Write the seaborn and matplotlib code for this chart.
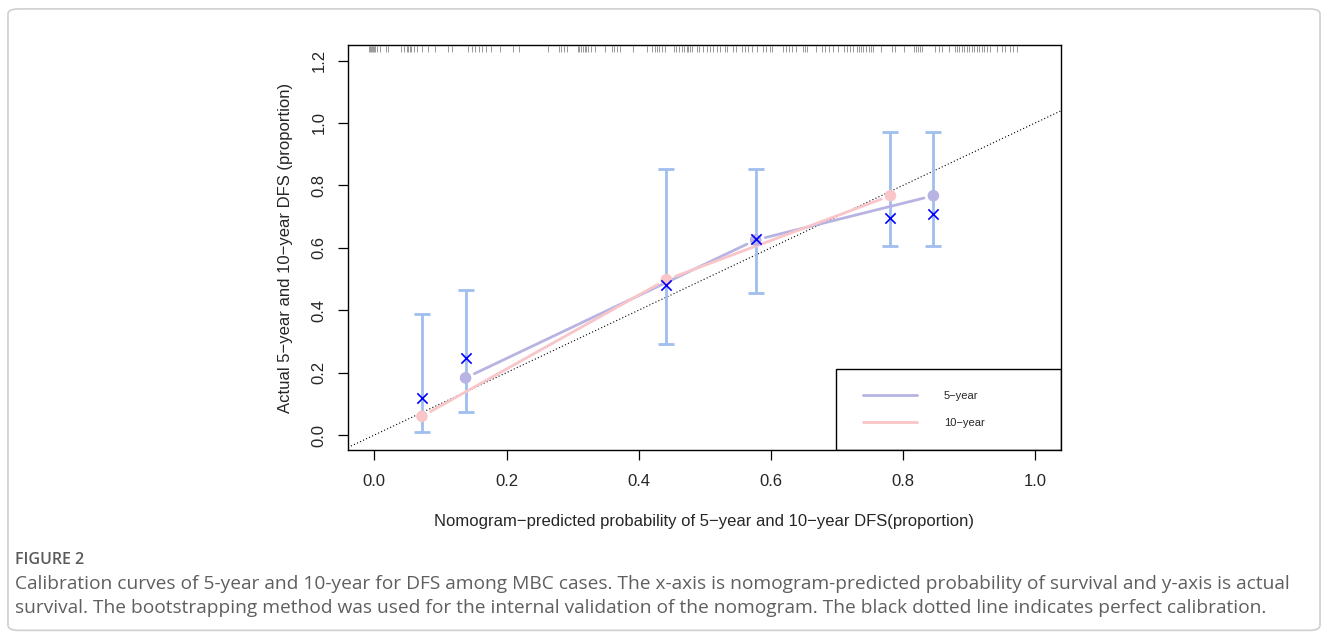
import numpy as np
import matplotlib
matplotlib.use("Agg")
import matplotlib.pyplot as plt
import seaborn as sns
from matplotlib.lines import Line2D
from matplotlib.patches import Rectangle, FancyBboxPatch

# 5-year calibration
pred_5 = [0.138, 0.577, 0.846]
obs_5 = [0.183, 0.625, 0.767]
corr_5 = [0.246, 0.627, 0.709]
lo_5 = [0.073, 0.455, 0.607]
hi_5 = [0.466, 0.852, 0.970]

# 10-year calibration
pred_10 = [0.072, 0.442, 0.781]
obs_10 = [0.060, 0.498, 0.767]
corr_10 = [0.118, 0.481, 0.695]
lo_10 = [0.010, 0.291, 0.607]
hi_10 = [0.389, 0.852, 0.970]

# distribution of predicted values (rug on top)
rug = [-0.008, -0.006, -0.005, -0.003, -0.002, 0.000, 0.001, 0.004, 0.008, 0.018,
       0.021, 0.041, 0.045, 0.049, 0.051, 0.054, 0.056, 0.060, 0.065, 0.072,
       0.081, 0.092, 0.112, 0.118, 0.142, 0.147, 0.152, 0.159, 0.163, 0.169,
       0.176, 0.190, 0.210, 0.219,
       0.263, 0.280, 0.283, 0.287, 0.291, 0.308, 0.310, 0.313, 0.315, 0.318,
       0.321, 0.324, 0.328, 0.334, 0.349, 0.359, 0.363, 0.367, 0.371, 0.392,
       0.412, 0.420, 0.424, 0.427, 0.431, 0.435, 0.440, 0.454, 0.457, 0.461,
       0.465, 0.469, 0.473, 0.475, 0.478, 0.480,
       0.488, 0.492, 0.498, 0.503, 0.508, 0.513, 0.518, 0.523, 0.531, 0.534,
       0.543, 0.548, 0.557, 0.561, 0.566, 0.571, 0.579, 0.588, 0.593, 0.598,
       0.601, 0.619, 0.623, 0.628, 0.632, 0.638, 0.648, 0.652, 0.655, 0.668,
       0.677, 0.682, 0.688, 0.694, 0.702, 0.710, 0.715, 0.720, 0.725, 0.730,
       0.734, 0.737, 0.740, 0.744, 0.748, 0.752, 0.755, 0.767, 0.783, 0.788,
       0.801, 0.816, 0.819, 0.822, 0.826, 0.829, 0.849, 0.854, 0.859, 0.869,
       0.879, 0.882, 0.885, 0.889, 0.893, 0.897, 0.900, 0.904, 0.908, 0.912,
       0.915, 0.919, 0.923, 0.927, 0.932, 0.942, 0.950, 0.955, 0.962, 0.967,
       0.972]

xticks = [0.0, 0.2, 0.4, 0.6, 0.8, 1.0]
yticks = [0.0, 0.2, 0.4, 0.6, 0.8, 1.0, 1.2]

c5 = "#b7b3e3"
c10 = "#f9c5c8"
c_bar = "#9fbfee"

sns.set_theme(style="white")
plt.rcParams["font.family"] = ["Liberation Sans", "DejaVu Sans"]

fig = plt.figure(figsize=(13.28, 6.38), dpi=100)
ax = fig.add_axes([0.2620, 0.2947, 0.5369, 0.6348])

# perfect calibration
ax.axline((0, 0), slope=1, color="black", lw=0.8, ls=(0, (1, 2)), zorder=1)

for p, o, lo, hi in [(pred_5, obs_5, lo_5, hi_5), (pred_10, obs_10, lo_10, hi_10)]:
    o = np.array(o)
    ax.errorbar(p, o, yerr=[o - np.array(lo), np.array(hi) - o], fmt="none",
                ecolor=c_bar, elinewidth=2, capsize=6, capthick=2, zorder=2)

# lines with gaps around the points (R type = "b")
for p, o, c in [(pred_5, obs_5, c5), (pred_10, obs_10, c10)]:
    for i in range(len(p) - 1):
        ax.annotate("", xy=(p[i + 1], o[i + 1]), xytext=(p[i], o[i]),
                    arrowprops=dict(arrowstyle="-", color=c, lw=2,
                                    shrinkA=7, shrinkB=7), zorder=3)

sns.scatterplot(x=pred_5, y=obs_5, color=c5, s=70, edgecolor="none", ax=ax, zorder=4)
sns.scatterplot(x=pred_10, y=obs_10, color=c10, s=70, edgecolor="none", ax=ax, zorder=4)
sns.scatterplot(x=pred_5 + pred_10, y=corr_5 + corr_10, marker="x", color="blue",
                s=55, linewidth=1.2, ax=ax, zorder=5)

ax.vlines(rug, 0.982, 0.998, transform=ax.get_xaxis_transform(),
          color="#999999", lw=0.7, zorder=2)

ax.set_xlim(-0.040, 1.039)
ax.set_ylim(-0.048, 1.250)
ax.set_xticks(xticks)
ax.set_yticks(yticks)
ax.set_xticklabels([f"{t:.1f}" for t in xticks], fontsize=12)
ax.set_yticklabels([f"{t:.1f}" for t in yticks], fontsize=12, rotation=90, va="center")
ax.tick_params(axis="both", direction="out", length=7.5, width=0.9, color="black",
               bottom=True, left=True)
ax.tick_params(axis="x", pad=10)
ax.tick_params(axis="y", pad=8)
for s in ax.spines.values():
    s.set_color("black")
    s.set_linewidth(1.0)

ax.set_xlabel("Nomogram\u2212predicted probability of 5\u2212year and 10\u2212year DFS(proportion)",
              fontsize=12, labelpad=18)
ax.set_ylabel("Actual 5\u2212year and 10\u2212year DFS (proportion)", fontsize=12, labelpad=13)

# legend box (R style, bottom right)
ax.add_patch(Rectangle((0.684, 0.0), 0.316, 0.2, transform=ax.transAxes, fill=False,
                       edgecolor="black", lw=1.0, zorder=6))
handles = [Line2D([], [], color=c5, lw=2), Line2D([], [], color=c10, lw=2)]
ax.legend(handles, ["5\u2212year", "10\u2212year"], loc="center left",
          bbox_to_anchor=(0.722, 0.1), frameon=False, fontsize=8, borderpad=0,
          handlelength=4.9, handletextpad=2.4, labelspacing=1.55, borderaxespad=0)

# outer frame and caption
fig.patches.append(FancyBboxPatch((0.006, 0.012), 0.988, 0.974, transform=fig.transFigure,
                                  boxstyle="round,pad=0,rounding_size=0.008",
                                  fill=False, edgecolor="#cfcfcf", lw=1.2))
cap = ["Open Sans", "DejaVu Sans"]
fig.text(0.0113, 1 - 560 / 638, "FIGURE 2", fontsize=11.5, color="#5a5a5a",
         family=cap, va="center", weight="semibold")
fig.text(0.0113, 1 - 584 / 638,
         "Calibration curves of 5-year and 10-year for DFS among MBC cases. The x-axis is "
         "nomogram-predicted probability of survival and y-axis is actual",
         fontsize=13.75, color="#5f5f5f", family=cap, va="center")
fig.text(0.0113, 1 - 608 / 638,
         "survival. The bootstrapping method was used for the internal validation of the "
         "nomogram. The black dotted line indicates perfect calibration.",
         fontsize=13.75, color="#5f5f5f", family=cap, va="center")

fig.savefig("out.png", dpi=100, facecolor="white")
